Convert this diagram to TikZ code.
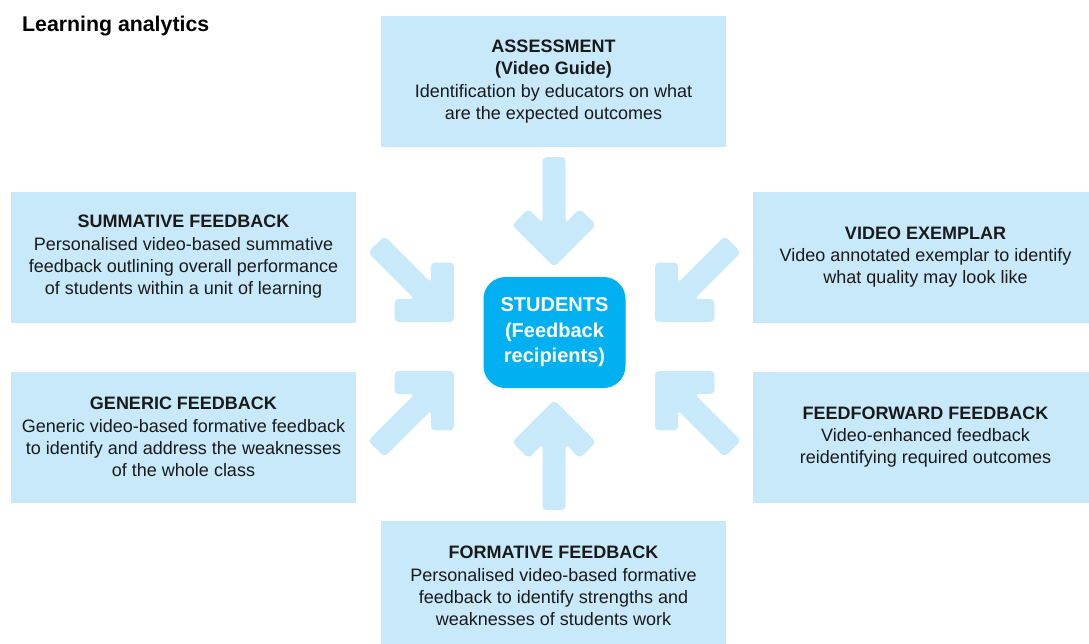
\documentclass[tikz,border=0pt]{standalone}
\usepackage{fontspec}
\setmainfont{Liberation Sans}
\definecolor{boxblue}{HTML}{C7E9F9}
\definecolor{studblue}{HTML}{00B0F0}
\definecolor{inkgray}{HTML}{1A1A1A}
\newcommand{\boxhead}[1]{{\bfseries #1}}
\tikzset{
    every node/.style={inner sep=0pt, text=inkgray, font=\fontsize{18}{22.3}\selectfont}
}
\tikzset{
    fbbox/.style={rectangle, fill=boxblue, minimum width=345pt, minimum height=131pt, align=center},
    studbox/.style={rectangle, rounded corners=22pt, fill=studblue, text=white, align=center,
        minimum width=142pt, minimum height=111pt, font=\fontsize{20}{25.5}\selectfont\bfseries},
    fatarrow/.pic={
        \fill[boxblue, rounded corners=4pt] (0,0) -- (-42,-42) -- (-25.7,-58.3) -- (-11.5,-44)
            -- (-11.5,-110) -- (11.5,-110) -- (11.5,-44) -- (25.7,-58.3) -- (42,-42) -- cycle;
    }
}

\begin{document}
\begin{tikzpicture}[x=1pt, y=-1pt]
    \useasboundingbox (0,0) rectangle (1089,643);

    \node (title) at (22,31) [anchor=base west, font=\fontsize{21.3}{24}\selectfont\bfseries, text=black] {Learning analytics};

    \node (assess) at (553.5,81.5) [fbbox] {\boxhead{ASSESSMENT}\\ \boxhead{(Video Guide)}\\
        Identification by educators on what\\ are the expected outcomes};
    \node (summ) at (183.5,257) [fbbox] {\boxhead{SUMMATIVE FEEDBACK}\\ Personalised video-based summative\\
        feedback outlining overall performance\\ of students within a unit of learning};
    \node (generic) at (183.5,437) [fbbox] {\boxhead{GENERIC FEEDBACK}\\ Generic video-based formative feedback\\
        to identify and address the weaknesses\\ of the whole class};
    \node (exemplar) at (925.5,257) [fbbox] {\boxhead{VIDEO EXEMPLAR}\\ Video annotated exemplar to identify\\
        what quality may look like};
    \node (feedfwd) at (925.5,437) [fbbox] {\boxhead{FEEDFORWARD FEEDBACK}\\ Video-enhanced feedback\\
        reidentifying required outcomes};
    \node (formative) at (553.5,586) [fbbox] {\boxhead{FORMATIVE FEEDBACK}\\ Personalised video-based formative\\
        feedback to identify strengths and\\ weaknesses of students work};

    \node (students) at (554.5,332.5) [studbox] {STUDENTS\\ (Feedback\\ recipients)};

    \coordinate (tipN) at (554,267);
    \coordinate (tipS) at (554,400);
    \coordinate (tipNW) at (454,322);
    \coordinate (tipSW) at (454,371);
    \coordinate (tipNE) at (655,322);
    \coordinate (tipSE) at (655,371);

    \pic at (tipN) {fatarrow};
    \pic[rotate=180] at (tipS) {fatarrow};
    \pic[rotate=45] at (tipNW) {fatarrow};
    \pic[rotate=135] at (tipSW) {fatarrow};
    \pic[rotate=-45] at (tipNE) {fatarrow};
    \pic[rotate=-135] at (tipSE) {fatarrow};
\end{tikzpicture}
\end{document}
